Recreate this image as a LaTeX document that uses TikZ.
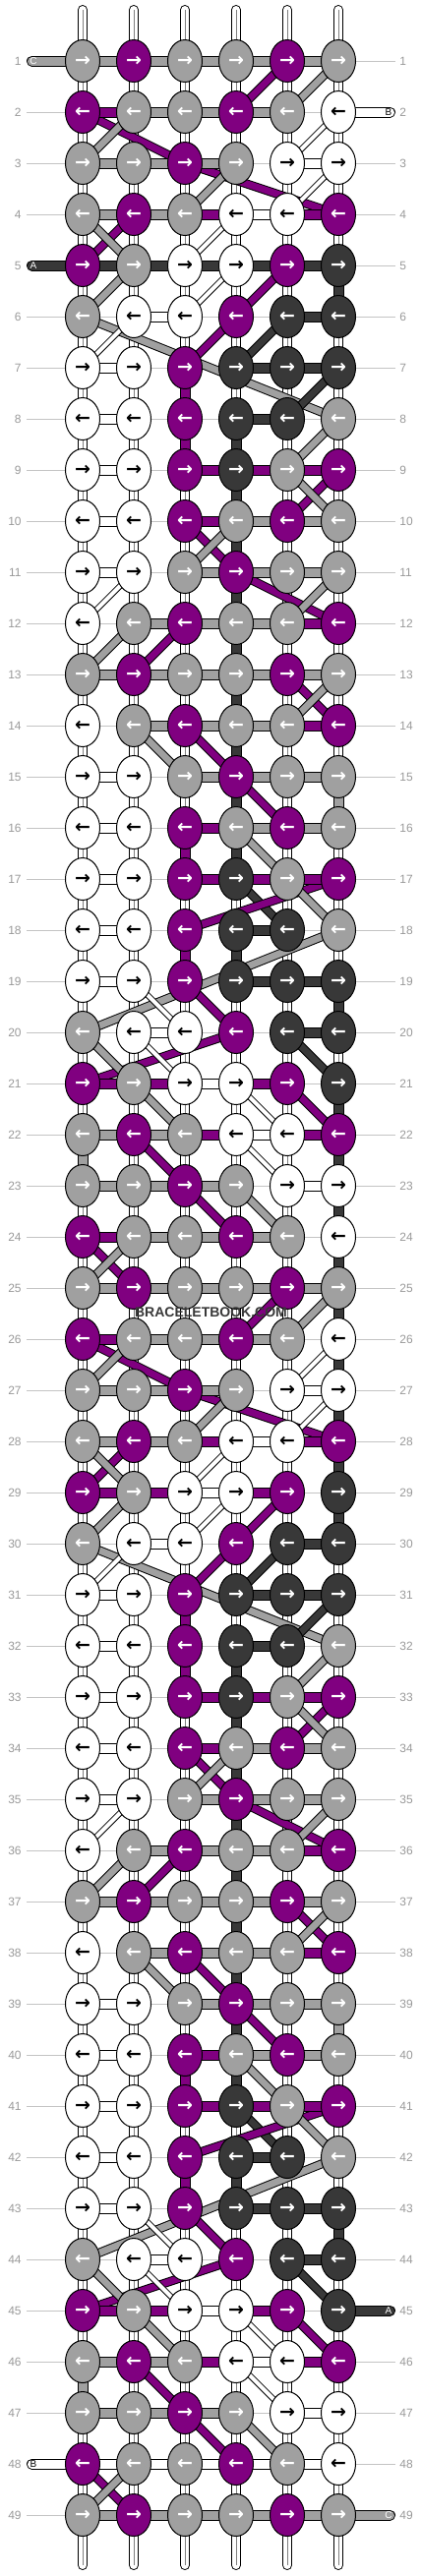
\documentclass[tikz,border=0pt]{standalone}
\usepackage{fontspec}
\setmainfont{Liberation Sans}
\newfontfamily\arrowfont{DejaVu Sans}
\usepackage{xcolor}
\usetikzlibrary{shapes.geometric}
\definecolor{gr1}{HTML}{A0A0A0}
\definecolor{pu1}{HTML}{800080}
\definecolor{dk1}{HTML}{383838}
\definecolor{ln1}{HTML}{C4C4C4}
\definecolor{lb1}{HTML}{999999}
\pgfdeclarelayer{rows}
\pgfdeclarelayer{strands}
\pgfdeclarelayer{diags}
\pgfdeclarelayer{threads}
\pgfsetlayers{rows,strands,diags,threads,main}
\tikzset{
  knot/.style={ellipse,draw=black,line width=0.5pt,minimum width=17.5pt,minimum height=21.5pt,
    inner sep=0pt,text=white,font=\arrowfont\bfseries\fontsize{9.5}{9.5}\selectfont},
  knot g/.style={knot,fill=gr1},
  knot p/.style={knot,fill=pu1},
  knot d/.style={knot,fill=dk1},
  knot w/.style={knot,fill=white,text=black},
  band/.style={draw=black,line width=5.5pt,postaction={draw=#1,line width=4.5pt}},
  th g/.style={band=gr1},
  th p/.style={band=pu1},
  th d/.style={band=dk1},
  th w/.style={band=white},
  th n/.style={draw=none},
  slant/.style={draw=black,line width=4.5pt,postaction={draw=#1,line width=3.5pt}},
  dg g/.style={slant=gr1},
  dg p/.style={slant=pu1},
  dg d/.style={slant=dk1},
  dg w/.style={draw=black,line width=3pt,postaction={draw=white,line width=2pt}},
  strand/.style={draw=black,line width=5pt,line cap=round,postaction={draw=white,line width=4pt}},
  rowline/.style={draw=ln1,line width=0.5pt},
  rowlab/.style={text=lb1,font=\fontsize{6}{7}\selectfont,inner sep=0pt},
  letter/.style={font=\fontsize{5}{5}\selectfont,inner sep=0pt}
}

\begin{document}
\begin{tikzpicture}[x=0.5pt,y=-0.5pt]
  \useasboundingbox (0,0) rectangle (428,2620);
  % knots, row lines and row threads
  \foreach \r/\ks/\hs in {
     1/{g,p,g,g,p,g}/{g,g,g,g,g},  2/{p,g,g,p,g,w}/{p,g,g,g,n},
     3/{g,g,p,g,w,w}/{g,g,g,n,w},  4/{g,p,g,w,w,p}/{g,g,p,w,p},
     5/{p,g,w,w,p,d}/{d,d,d,d,d},  6/{g,w,w,p,d,d}/{n,w,n,n,d},
     7/{w,w,p,d,d,d}/{w,n,n,d,d},  8/{w,w,p,d,d,g}/{w,n,n,d,n},
     9/{w,w,p,d,g,p}/{w,n,p,p,p}, 10/{w,w,p,g,p,g}/{w,n,p,g,g},
    11/{w,w,g,p,g,g}/{w,n,g,g,g}, 12/{w,g,p,g,g,p}/{n,g,g,g,p},
    13/{g,p,g,g,p,g}/{g,g,g,g,g}, 14/{w,g,p,g,g,p}/{n,g,g,g,p},
    15/{w,w,g,p,g,g}/{w,n,g,g,g}, 16/{w,w,p,g,p,g}/{w,n,p,g,g},
    17/{w,w,p,d,g,p}/{w,n,p,p,p}, 18/{w,w,p,d,d,g}/{w,n,n,d,n},
    19/{w,w,p,d,d,d}/{w,n,n,d,d}, 20/{g,w,w,p,d,d}/{n,w,n,n,d},
    21/{p,g,w,w,p,d}/{p,p,w,p,n}, 22/{g,p,g,w,w,p}/{g,g,p,w,p},
    23/{g,g,p,g,w,w}/{g,g,g,n,w}, 24/{p,g,g,p,g,w}/{p,g,g,g,n},
    25/{g,p,g,g,p,g}/{g,g,g,g,g}, 26/{p,g,g,p,g,w}/{p,g,g,g,n},
    27/{g,g,p,g,w,w}/{g,g,g,n,w}, 28/{g,p,g,w,w,p}/{g,g,p,w,p},
    29/{p,g,w,w,p,d}/{p,p,w,p,n}, 30/{g,w,w,p,d,d}/{n,w,n,n,d},
    31/{w,w,p,d,d,d}/{w,n,n,d,d}, 32/{w,w,p,d,d,g}/{w,n,n,d,n},
    33/{w,w,p,d,g,p}/{w,n,p,p,p}, 34/{w,w,p,g,p,g}/{w,n,p,g,g},
    35/{w,w,g,p,g,g}/{w,n,g,g,g}, 36/{w,g,p,g,g,p}/{n,g,g,g,p},
    37/{g,p,g,g,p,g}/{g,g,g,g,g}, 38/{w,g,p,g,g,p}/{n,g,g,g,p},
    39/{w,w,g,p,g,g}/{w,n,g,g,g}, 40/{w,w,p,g,p,g}/{w,n,p,g,g},
    41/{w,w,p,d,g,p}/{w,n,p,p,p}, 42/{w,w,p,d,d,g}/{w,n,n,d,n},
    43/{w,w,p,d,d,d}/{w,n,n,d,d}, 44/{g,w,w,p,d,d}/{n,w,n,n,d},
    45/{p,g,w,w,p,d}/{p,p,w,p,n}, 46/{g,p,g,w,w,p}/{g,g,p,w,p},
    47/{g,g,p,g,w,w}/{g,g,g,n,w}, 48/{p,g,g,p,g,w}/{w,w,w,w,w},
    49/{g,p,g,g,p,g}/{g,g,g,g,g}}{
    \pgfmathtruncatemacro\y{10+52*\r}
    \ifodd\r \def\arr{→}\else \def\arr{←}\fi
    \foreach \k [count=\cl] in \ks
      \node[knot \k] (k-\r-\cl) at ({32+52*\cl},\y) {\arr};
    \begin{pgfonlayer}{rows}
      \coordinate (rowL-\r) at (27,\y);
      \coordinate (rowR-\r) at (402,\y);
      \draw[rowline] (rowL-\r) -- (rowR-\r);
      \node[rowlab,anchor=east] (labL-\r) at (22,\y) {\r};
      \node[rowlab,anchor=west] (labR-\r) at (406,\y) {\r};
    \end{pgfonlayer}
    \begin{pgfonlayer}{threads}
      \foreach \tc [count=\cl] in \hs {
        \pgfmathtruncatemacro\cn{\cl+1}
        \draw[th \tc] (k-\r-\cl.center) -- (k-\r-\cn.center);
      }
    \end{pgfonlayer}
  }
  % base strands
  \begin{pgfonlayer}{strands}
    \foreach \cl in {1,...,6} {
      \coordinate (top-\cl) at ({32+52*\cl},10);
      \coordinate (bot-\cl) at ({32+52*\cl},2609);
      \draw[strand] (top-\cl) -- (bot-\cl);
      \draw[gray,line width=0.4pt] (top-\cl) -- (bot-\cl);
    }
  \end{pgfonlayer}
  % threads going straight down
  \begin{pgfonlayer}{threads}
    \foreach \off in {0,24}
      \foreach \ra/\cl/\tc in {5/6/d,19/6/d,15/6/g,22/1/g,7/3/p,8/3/p,16/3/p,18/3/p,
          8/4/d,9/4/d,10/4/d,11/4/d,12/4/d,13/4/d,14/4/d,15/4/d,16/4/d,18/4/d}{
        \pgfmathtruncatemacro\rx{\ra+\off}
        \pgfmathtruncatemacro\ry{\ra+\off+1}
        \draw[th \tc] (k-\rx-\cl.center) -- (k-\ry-\cl.center);
      }
    \foreach \ra in {21,...,28} {
      \pgfmathtruncatemacro\ry{\ra+1}
      \draw[th d] (k-\ra-6.center) -- (k-\ry-6.center);
    }
    % loose ends
    \coordinate (endC1) at (32.5,62);
    \coordinate (endB2) at (396.5,114);
    \coordinate (endA5) at (32.5,270);
    \coordinate (endA45) at (396.5,2350);
    \coordinate (endB48) at (32.5,2506);
    \coordinate (endC49) at (396.5,2558);
    \draw[th g,line cap=round] (endC1) -- (k-1-1.center);
    \draw[th w,line cap=round] (k-2-6.center) -- (endB2);
    \draw[th d,line cap=round] (endA5) -- (k-5-1.center);
    \draw[th d,line cap=round] (k-45-6.center) -- (endA45);
    \draw[th w,line cap=round] (endB48) -- (k-48-1.center);
    \draw[th g,line cap=round] (k-49-6.center) -- (endC49);
  \end{pgfonlayer}
  \node[letter,text=white] (labC1) at (34,62) {C};
  \node[letter,text=black] (labB2) at (395,114) {B};
  \node[letter,text=white] (labA5) at (34,270) {A};
  \node[letter,text=white] (labA45) at (395,2350) {A};
  \node[letter,text=black] (labB48) at (34,2506) {B};
  \node[letter,text=white] (labC49) at (395,2558) {C};
  % slanted threads
  \begin{pgfonlayer}{diags}
    \foreach \off in {0,24}
      \foreach \ra/\ca/\rb/\cb/\tc in {
          1/5/2/4/p, 1/6/2/5/g, 2/1/3/3/p, 2/2/3/1/g, 2/6/3/5/w,
          3/3/4/6/p, 3/4/4/3/g, 3/6/4/5/w, 4/2/5/1/p, 4/1/5/2/g, 4/4/5/3/w,
          5/5/6/4/p, 5/2/6/1/g, 5/4/6/3/w, 6/4/7/3/p, 6/1/8/6/g, 6/5/7/4/d, 6/2/7/1/w,
          7/6/8/5/d, 8/6/9/5/g, 9/6/10/5/p, 9/5/10/6/g, 10/3/11/4/p, 10/4/11/3/g,
          11/4/12/6/p, 11/6/12/5/g, 11/2/12/1/w, 12/3/13/2/p, 12/2/13/1/g,
          13/5/14/6/p, 13/6/14/5/g, 14/3/15/4/p, 14/2/15/3/g, 15/4/16/5/p,
          16/4/17/5/g, 17/4/18/5/d, 17/6/18/3/p, 17/5/18/6/g, 18/6/20/1/g,
          19/3/20/4/p, 19/2/20/3/w, 20/4/21/1/p, 20/5/21/6/d, 20/1/21/2/g, 20/2/21/3/w,
          21/5/22/6/p, 21/2/22/3/g, 21/4/22/5/w, 22/2/23/3/p, 22/4/23/5/w,
          23/3/24/4/p, 23/4/24/5/g, 24/1/25/2/p, 24/2/25/1/g}{
        \pgfmathtruncatemacro\rx{\ra+\off}
        \pgfmathtruncatemacro\ry{\rb+\off}
        \draw[dg \tc] (k-\rx-\ca.center) -- (k-\ry-\cb.center);
      }
  \end{pgfonlayer}
  \node[font=\bfseries\fontsize{7}{7}\selectfont,text=dk1] (mark) at (214.5,1335) {BRACELETBOOK.COM};
\end{tikzpicture}
\end{document}
